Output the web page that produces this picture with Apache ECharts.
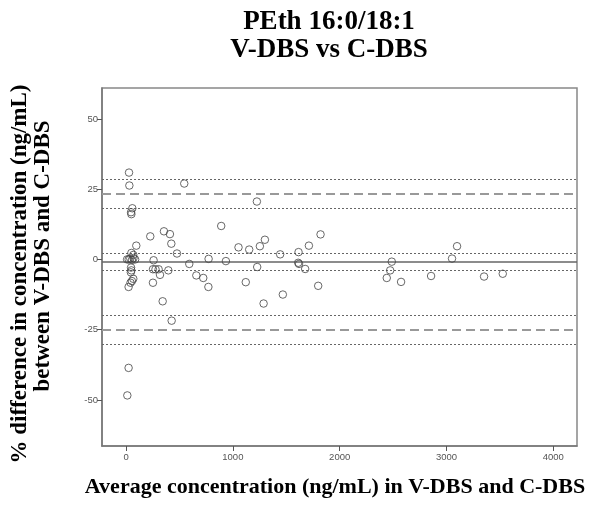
<!DOCTYPE html>
<html>
<head>
<meta charset="utf-8">
<script src="https://cdn.jsdelivr.net/npm/echarts@6/dist/echarts.min.js"></script>
<style>html,body{margin:0;padding:0;background:#fff}#c{width:605px;height:511px}</style>
</head>
<body>
<div id="c"></div>
<script>
// Average concentration (ng/mL)
var avgConc = [28,31,59,47,50,96,50,68,10,25,40,55,70,85,47,50,45,68,55,42,24,24,12,
  227,355,411,424,477,891,545,1225,1053,1153,1253,1300,1443,1615,1612,1620,1677,1712,1821,1799,
  258,252,276,305,318,396,252,343,427,592,773,935,658,723,771,1121,1228,1288,1468,
  2488,2473,2441,2575,2856,3052,3099,3352,3527];
// % difference
var pctDiff = [30.9,26.3,18.2,16.8,16.1,4.9,2.3,1.6,0,0,0.3,-0.2,0.5,0,-2.9,-3.9,-4.6,-6.9,-7.7,-8.3,-9.8,-38.6,-48.4,
  8.2,10.0,9.0,5.6,2.1,11.9,27.0,20.6,4.3,3.5,4.7,7.0,1.8,2.6,-1.2,-1.6,-3.4,4.9,8.9,-9.4,
  -0.3,-3.5,-3.5,-3.5,-5.5,-3.9,-8.3,-14.9,-21.8,-1.6,0.2,-0.6,-5.7,-6.6,-9.8,-8.1,-2.7,-15.7,-12.5,
  -0.8,-3.9,-6.6,-8.0,-5.9,0.3,4.7,-6.1,-5.1];
var xTicks = [0,1000,2000,3000,4000];
var yTicks = [-50,-25,0,25,50];
var meanLine = [-0.85];
var meanCI = [2.3,-3.9];
var loaLines = [23.4,-25.1];
var loaCI = [28.6,18.3,-19.9,-30.3];

var pts = avgConc.map(function(v,i){return [v,pctDiff[i]];});
var ml = [];
meanLine.forEach(function(v){ml.push({yAxis:v,lineStyle:{type:'solid',color:'#666',width:1.5}});});
meanCI.forEach(function(v){ml.push({yAxis:v,lineStyle:{type:[2,2],color:'#666',width:1}});});
loaLines.forEach(function(v){ml.push({yAxis:v,lineStyle:{type:[9,5],color:'#999',width:2}});});
loaCI.forEach(function(v){ml.push({yAxis:v,lineStyle:{type:[2,2],color:'#666',width:1}});});

var chart = echarts.init(document.getElementById('c'));
var tickLbl = {color:'#555',fontSize:9.5,fontFamily:'Liberation Sans',formatter:function(v){return String(v);}};
chart.setOption({
  animation:false,
  backgroundColor:'#fff',
  grid:{left:102,right:28,top:88,bottom:65,show:true,borderColor:'#888',borderWidth:1.5,backgroundColor:'transparent'},
  xAxis:{type:'value',min:-225,max:4222,splitLine:{show:false},
    axisLine:{show:true,onZero:false,lineStyle:{color:'#777',width:1.5}},
    axisTick:{show:true,length:5,lineStyle:{color:'#555'},customValues:xTicks},
    axisLabel:Object.assign({customValues:xTicks,margin:6},tickLbl)},
  yAxis:{type:'value',min:-66.4,max:61,splitLine:{show:false},
    axisLine:{show:true,onZero:false,lineStyle:{color:'#777',width:1.5}},
    axisTick:{show:true,length:5,lineStyle:{color:'#555'},customValues:yTicks},
    axisLabel:Object.assign({customValues:yTicks,margin:4},tickLbl)},
  series:[{type:'scatter',data:pts,symbol:'circle',symbolSize:7.5,
    itemStyle:{color:'rgba(0,0,0,0)',borderColor:'#444',borderWidth:1},
    markLine:{silent:true,symbol:'none',label:{show:false},data:ml,z:1}}],
  graphic:[
    {type:'text',x:329,y:22,style:{text:'PEth 16:0/18:1',font:'bold 27px "Liberation Serif"',fill:'#000',align:'center',verticalAlign:'middle'}},
    {type:'text',x:329,y:50,style:{text:'V-DBS vs C-DBS',font:'bold 27px "Liberation Serif"',fill:'#000',align:'center',verticalAlign:'middle'}},
    {type:'text',x:335,y:487,style:{text:'Average concentration (ng/mL) in V-DBS and C-DBS',font:'bold 22px "Liberation Serif"',fill:'#000',align:'center',verticalAlign:'middle'}},
    {type:'text',x:20,y:274,rotation:Math.PI/2,style:{text:'% difference in concentration (ng/mL)',font:'bold 23px "Liberation Serif"',fill:'#000',align:'center',verticalAlign:'middle'}},
    {type:'text',x:43,y:256,rotation:Math.PI/2,style:{text:'between V-DBS and C-DBS',font:'bold 23px "Liberation Serif"',fill:'#000',align:'center',verticalAlign:'middle'}}
  ]
});
</script>
</body>
</html>
